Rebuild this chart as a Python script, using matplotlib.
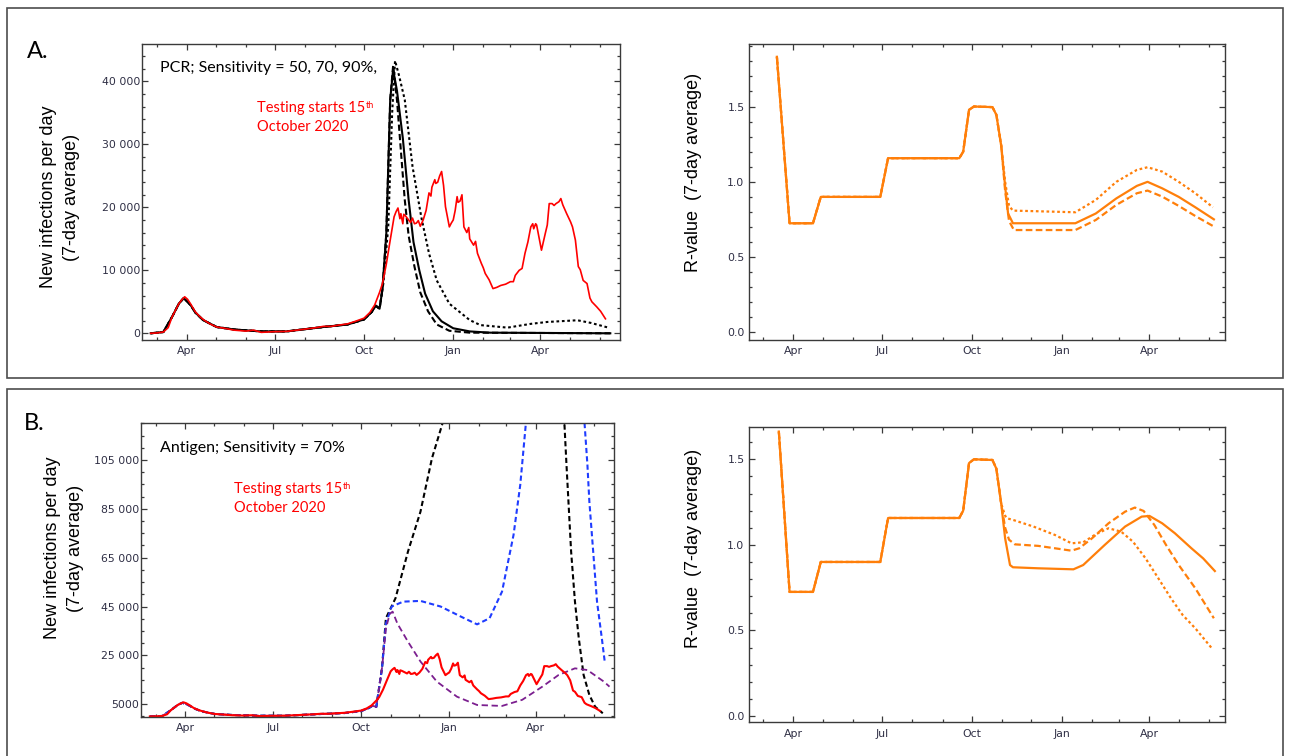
import numpy as np
import matplotlib
matplotlib.use('Agg')
import matplotlib.pyplot as plt
import matplotlib.dates as mdates
from matplotlib.ticker import MultipleLocator
from matplotlib.patches import Rectangle
from matplotlib.text import Annotation

START = np.datetime64('2020-01-01')

# ---- data: x values are days since 1 Jan 2020 ----
# observed cases (red), same in both panels
obs_day = [54, 60, 67, 72, 76, 80, 83, 86, 89, 92, 95, 100, 105, 109, 115, 122, 130, 140,
           152, 160, 168, 180, 194, 205, 215, 225, 232, 240, 248, 257, 265, 274, 280, 285,
           290, 293, 297, 301, 305, 307, 309, 311, 312, 314, 315, 317, 320, 322, 324, 326,
           328, 330, 332, 335, 338, 341, 343, 344, 347, 348, 350, 352, 354, 356, 358, 360,
           362, 364, 366, 368, 370, 371, 373, 375, 377, 380, 382, 383, 387, 389, 391, 395,
           397, 399, 403, 407, 411, 415, 420, 425, 428, 430, 434, 437, 440, 443, 446, 448,
           449, 451, 452, 455, 457, 461, 463, 465, 468, 470, 472, 475, 477, 479, 483, 487,
           489, 492, 495, 497, 500, 504, 507, 509, 514, 518, 523]
obs_val = [0, 50, 200, 900, 2600, 3800, 4700, 5300, 5800, 5400, 4700, 3400, 2600, 2100, 1500,
           1000, 800, 500, 350, 500, 150, 250, 300, 500, 700, 900, 1100, 1100, 1300, 1500,
           1900, 2400, 3300, 4500, 6500, 7900, 11000, 14800, 18500, 19300, 19900, 18200,
           19000, 17400, 18900, 18600, 18000, 17600, 18300, 17400, 17500, 17900, 17000,
           18000, 19500, 22300, 21800, 23200, 24400, 23800, 24000, 25000, 25700, 23500,
           20100, 18500, 16900, 17500, 18000, 19500, 21700, 20800, 21000, 22000, 16900,
           16000, 16800, 15000, 14000, 14600, 12700, 11100, 10400, 9500, 8500, 7100, 7300,
           7600, 7800, 8200, 8200, 9200, 10000, 10300, 12700, 14500, 16900, 17400, 16600,
           17400, 17200, 14800, 13200, 15900, 17200, 20600, 20600, 20300, 20600, 20900,
           21400, 20400, 19000, 17700, 16900, 14800, 10600, 10100, 8400, 7900, 5600, 5000,
           4200, 3500, 2300]

# model runs, common part before testing starts
base_day = [54, 67, 76, 83, 88, 95, 100, 108, 122, 140, 168, 194, 232, 257, 274, 282, 286, 290]
base_val = [0, 200, 2600, 4700, 5600, 4500, 3300, 2100, 1000, 600, 300, 300, 1000, 1400,
            2200, 3400, 4400, 3900]

# A: PCR, sensitivity 50 / 70 / 90 %
pcr_solid_day = [293, 297, 301, 304, 308, 314, 320, 325, 331, 337, 345, 354, 366, 383, 404, 528]
pcr_solid_val = [7000, 15900, 37100, 41900, 38500, 31000, 21200, 14500, 10000, 6300, 3500,
                 1900, 800, 300, 100, 0]
pcr_dash_day = [293, 297, 301, 304, 308, 312, 316, 320, 326, 332, 340, 349, 362, 383, 528]
pcr_dash_val = [7000, 15900, 37100, 42500, 37000, 29000, 21200, 15500, 10600, 6500, 3500,
                1400, 400, 100, 0]
pcr_dot_day = [294, 299, 303, 306, 310, 316, 324, 333, 341, 349, 362, 383, 394, 422, 446,
               463, 494, 508, 526]
pcr_dot_val = [8000, 17000, 35000, 43300, 41000, 37100, 26500, 18500, 12700, 8400, 4700,
               2100, 1300, 900, 1500, 1800, 2070, 1650, 900]

# B: antigen, sensitivity 70 %
ag_black_day = [296, 300, 310, 323, 336, 348, 359, 362, 484, 486, 488, 493, 497, 501, 506,
                512, 518, 526]
ag_black_val = [20000, 40200, 48400, 67500, 83800, 105700, 120000, 126000, 126000, 120000,
                104300, 67500, 47000, 32000, 17000, 8800, 4000, 1300]
ag_blue_day = [296, 300, 306, 318, 336, 357, 378, 395, 408, 421, 433, 440, 446, 448, 505,
               507, 510, 512, 516, 520, 525, 528]
ag_blue_val = [20000, 38000, 45000, 47000, 47300, 45000, 40900, 37700, 40200, 51100, 74300,
               94800, 120600, 126000, 126000, 120000, 102900, 88000, 67500, 47000, 32000, 22500]
ag_purple_day = [296, 300, 304, 307, 312, 323, 336, 353, 374, 395, 421, 442, 463, 480, 497,
                 510, 527, 533]
ag_purple_val = [20000, 36000, 42000, 42900, 38000, 30600, 22500, 14300, 8100, 4700, 4300,
                 6800, 12200, 17000, 19700, 19000, 14300, 12200]

# R-values, common steps
r_step_day = [87, 111, 119, 180, 188, 261, 265, 271, 276, 295, 299, 304]
r_step_val = [0.725, 0.725, 0.9, 0.9, 1.157, 1.157, 1.20, 1.478, 1.50, 1.496, 1.445, 1.24]
rA_start = (74, 1.83)
rB_start = (76, 1.662)

rA_solid_day = [308, 311, 316, 380, 401, 422, 443, 454, 469, 486, 503, 522]
rA_solid_val = [0.969, 0.79, 0.725, 0.725, 0.79, 0.89, 0.973, 1.0, 0.957, 0.90, 0.831, 0.751]
rA_dot_day = [308, 312, 316, 380, 401, 422, 443, 454, 469, 486, 503, 521]
rA_dot_val = [1.0, 0.84, 0.809, 0.798, 0.88, 1.0, 1.079, 1.097, 1.068, 1.0, 0.924, 0.831]
rA_dash_day = [308, 312, 317, 380, 401, 422, 443, 454, 469, 486, 503, 521]
rA_dash_val = [0.94, 0.74, 0.68, 0.68, 0.747, 0.847, 0.924, 0.942, 0.902, 0.84, 0.773, 0.707]

rB_solid_day = [308, 313, 316, 342, 378, 388, 410, 431, 448, 456, 469, 482, 499, 511, 523]
rB_solid_val = [1.038, 0.882, 0.869, 0.863, 0.857, 0.882, 0.999, 1.107, 1.165, 1.169, 1.126,
                1.068, 0.98, 0.921, 0.847]
rB_dash_day = [308, 312, 318, 342, 376, 384, 397, 414, 431, 441, 450, 461, 473, 486, 503, 522]
rB_dash_val = [1.10, 1.03, 1.003, 0.994, 0.966, 0.98, 1.038, 1.126, 1.194, 1.218, 1.198,
               1.116, 0.999, 0.882, 0.746, 0.571]
rB_dot_day = [308, 310, 316, 337, 359, 376, 388, 401, 414, 427, 439, 452, 465, 478, 490, 503, 520]
rB_dot_val = [1.17, 1.155, 1.146, 1.107, 1.058, 1.009, 1.015, 1.062, 1.097, 1.077, 1.019,
              0.921, 0.805, 0.688, 0.59, 0.512, 0.395]

cases_A_ticks = [0, 10000, 20000, 30000, 40000]
cases_A_labels = ['0', '10 000', '20 000', '30 000', '40 000']
cases_B_ticks = [5000, 25000, 45000, 65000, 85000, 105000]
cases_B_labels = ['5000', '25 000', '45 000', '65 000', '85 000', '105 000']
r_ticks = [0.0, 0.5, 1.0, 1.5]
r_labels = ['0.0', '0.5', '1.0', '1.5']


def to_dates(days):
    return START + np.array(days, dtype='timedelta64[D]')


RED = '#ff0000'
ORANGE = '#ff7f0a'
TICKCOL = '#2e2e44'


def style_axis(ax, x0, x1, ylim, yticks, ylabels, yminor, ypad):
    ax.set_xlim(to_dates([x0])[0], to_dates([x1])[0])
    ax.set_ylim(*ylim)
    ax.xaxis.set_major_locator(mdates.MonthLocator(bymonth=[1, 4, 7, 10]))
    ax.xaxis.set_major_formatter(mdates.DateFormatter('%b'))
    ax.xaxis.set_minor_locator(mdates.MonthLocator())
    ax.set_yticks(yticks)
    ax.set_yticklabels(ylabels)
    ax.yaxis.set_minor_locator(MultipleLocator(yminor))
    ax.tick_params(which='both', direction='in', top=True, right=True,
                   colors='#3a3a3a', labelcolor=TICKCOL, labelsize=7.8, width=0.9)
    ax.tick_params(which='major', length=4.5)
    ax.tick_params(which='minor', length=2.5)
    ax.tick_params(axis='x', pad=4.5)
    ax.tick_params(axis='y', pad=ypad)
    for s in ax.spines.values():
        s.set_color('#3a3a3a')
        s.set_linewidth(1.0)


fig = plt.figure(figsize=(12.9, 7.56), dpi=100)
W, H = 1290.0, 756.0


def px_axes(l, t, r, b):
    return fig.add_axes([l / W, 1 - b / H, (r - l) / W, (b - t) / H])


# panel frames
fig.patches.append(Rectangle((7 / W, 1 - 378 / H), 1275.5 / W, 370 / H, transform=fig.transFigure,
                             fill=False, edgecolor='#4d4d4d', lw=1.2))
fig.patches.append(Rectangle((7 / W, -0.02), 1275.5 / W, 1 - 389 / H + 0.02, transform=fig.transFigure,
                             fill=False, edgecolor='#4d4d4d', lw=1.2))

# ---- A, cases ----
ax = px_axes(142, 44, 620, 340)
ax.plot(to_dates(base_day + pcr_dot_day), base_val + pcr_dot_val, color='black', lw=1.5,
        dashes=(1.3, 1.3))
ax.plot(to_dates(base_day + pcr_dash_day), base_val + pcr_dash_val, color='black', lw=1.5,
        dashes=(3, 1.5))
ax.plot(to_dates(base_day + pcr_solid_day), base_val + pcr_solid_val, color='black', lw=1.5)
ax.plot(to_dates(obs_day), obs_val, color=RED, lw=1.2)
style_axis(ax, 45, 538, (-1065, 45950), cases_A_ticks, cases_A_labels, 2000, 1.5)

# ---- A, R ----
ax = px_axes(748.6, 44, 1224.6, 340)
rA_pre_day = [rA_start[0]] + r_step_day
rA_pre_val = [rA_start[1]] + r_step_val
ax.plot(to_dates(rA_pre_day + rA_dot_day), rA_pre_val + rA_dot_val, color=ORANGE, lw=1.6,
        dashes=(1.2, 1.2))
ax.plot(to_dates(rA_pre_day + rA_dash_day), rA_pre_val + rA_dash_val, color=ORANGE, lw=1.6,
        dashes=(3, 1.5))
ax.plot(to_dates(rA_pre_day + rA_solid_day), rA_pre_val + rA_solid_val, color=ORANGE, lw=1.6)
style_axis(ax, 45, 533, (-0.05, 1.915), r_ticks, r_labels, 0.1, 3)

# ---- B, cases ----
ax = px_axes(141.2, 423.3, 614.3, 716.7)
ax.plot(to_dates(base_day + ag_black_day), base_val + ag_black_val, color='black', lw=1.5,
        dashes=(2.5, 1.5))
ax.plot(to_dates(base_day + ag_blue_day), base_val + ag_blue_val, color='#1f3cff', lw=1.5,
        dashes=(2.5, 1.5))
ax.plot(to_dates(base_day + ag_purple_day), base_val + ag_purple_val, color='#7b1f8f', lw=1.3,
        dashes=(3.5, 2))
ax.plot(to_dates(obs_day), obs_val, color=RED, lw=1.5)
style_axis(ax, 45, 538, (-100, 120000), cases_B_ticks, cases_B_labels, 5000, 1.5)

# ---- B, R ----
ax = px_axes(748.6, 427.3, 1224.6, 722.3)
rB_pre_day = [rB_start[0]] + r_step_day
rB_pre_val = [rB_start[1]] + r_step_val
ax.plot(to_dates(rB_pre_day + rB_dot_day), rB_pre_val + rB_dot_val, color=ORANGE, lw=1.6,
        dashes=(1.2, 1.2))
ax.plot(to_dates(rB_pre_day + rB_dash_day), rB_pre_val + rB_dash_val, color=ORANGE, lw=1.6,
        dashes=(3, 1.5))
ax.plot(to_dates(rB_pre_day + rB_solid_day), rB_pre_val + rB_solid_val, color=ORANGE, lw=1.6)
style_axis(ax, 45, 533, (-0.037, 1.687), r_ticks, r_labels, 0.1, 3)

# ---- texts ----
TXT = 'Lato'


def ftext(x, y, s, **kw):
    return fig.text(x / W, 1 - y / H, s, **kw)


ftext(27, 51, 'A.', fontsize=17, family=TXT, va='center')
ftext(24, 423, 'B.', fontsize=17, family=TXT, va='center')
ftext(160, 68, 'PCR; Sensitivity = 50, 70, 90%,', fontsize=11.5, family=TXT, va='center')
ftext(160, 448, 'Antigen; Sensitivity = 70%', fontsize=11.5, family=TXT, va='center')

for (x, y) in [(257, 108), (234, 489)]:
    t = ftext(x, y, 'Testing starts 15', fontsize=10.5, family=TXT, color=RED, va='center')
    fig.add_artist(Annotation('th', xy=(1, 1), xycoords=t, xytext=(0.5, 0),
                              textcoords='offset points', fontsize=6.5, family=TXT,
                              color=RED, va='top', ha='left'))
    ftext(x, y + 19, 'October 2020', fontsize=10.5, family=TXT, color=RED, va='center')

for (x, y) in [(60, 197), (64, 548)]:
    ftext(x, y, 'New infections per day\n(7-day average)', fontsize=13, family='Liberation Sans',
          rotation=90, ha='center', va='center', linespacing=1.45)
for y in [172, 548]:
    ftext(694, y, 'R-value  (7-day average)', fontsize=13, family='Liberation Sans',
          rotation=90, ha='center', va='center')

fig.savefig('out.png', dpi=100)
